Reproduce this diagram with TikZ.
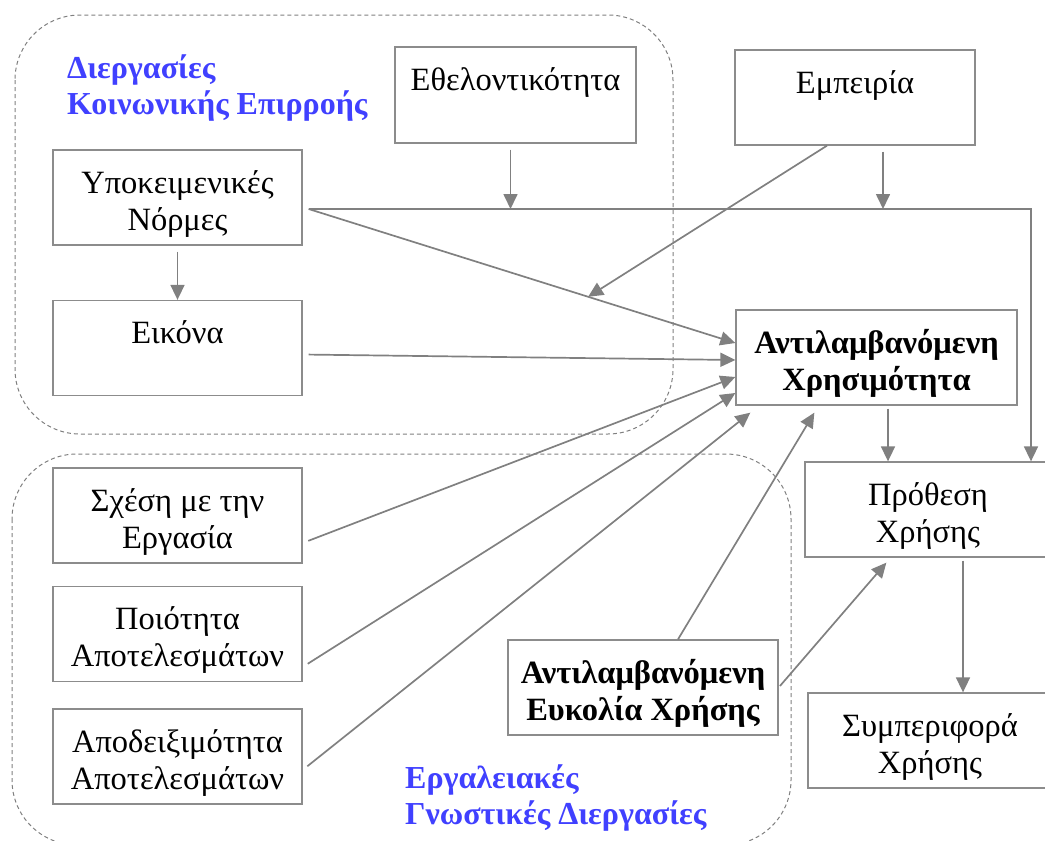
\documentclass[tikz,border=0pt]{standalone}
\usepackage{fontspec}
\setmainfont{Liberation Serif}
\usetikzlibrary{arrows.meta}
\definecolor{grpBlue}{HTML}{4040FF}
\definecolor{lineGray}{HTML}{808080}
\definecolor{boxGray}{HTML}{8C8C8C}

\begin{document}
\begin{tikzpicture}[
    x=1pt, y=-1pt,
    >={Triangle[length=15pt, width=14pt]},
    % plain boxes; bbox for the two "perceived" constructs
    box/.style ={draw=boxGray, line width=1.3pt, fill=white, minimum width=249pt, minimum height=95pt,
            inner sep=0pt, align=center, text height=70pt, text depth=5pt,
            font=\fontsize{32.5}{37}\selectfont},
    bbox/.style={box, font=\fontsize{32.5}{37}\selectfont\bfseries},
    grp/.style ={draw=lineGray, line width=1pt, dash pattern=on 4pt off 3pt, rounded corners=65pt},
    lbl/.style ={text=grpBlue, font=\fontsize{32}{36}\selectfont\bfseries, align=left, inner sep=0pt},
    arr/.style ={->, draw=lineGray, line width=1.7pt, shorten <=6pt}
  ]
  \useasboundingbox (0,0) rectangle (1045,841);

  % the two process groups
  \draw[grp] (15,15) rectangle (673,434);
  \draw[grp] (12,454) rectangle (791,845);
  \node[lbl, anchor=north west] (social) at (67,55) {Διεργασίες\\Κοινωνικής Επιρροής};
  \node[lbl, anchor=north west] (cognit) at (405,765) {Εργαλειακές\\Γνωστικές Διεργασίες};

  \node[box, minimum width=241pt, minimum height=96pt] (ethel) at (515.5,95) {Εθελοντικότητα\\ \strut};
  \node[box, minimum width=240pt] (emp)   at (855,97.5)  {Εμπειρία\\ \strut};
  \node[box] (ypok)  at (177.5,197.5) {Υποκειμενικές\\Νόρμες};
  \node[box] (eik)   at (177.5,348)   {Εικόνα\\ \strut};
  \node[bbox, minimum width=281pt] (xris) at (876.5,357.5) {Αντιλαμβανόμενη\\Χρησιμότητα};
  \node[box, minimum width=246pt] (proth)  at (928,509.5) {Πρόθεση\\Χρήσης};
  \node[box] (sxesi) at (177.5,515.5) {Σχέση με την\\Εργασία};
  \node[box] (poiot) at (177.5,634)   {Ποιότητα\\Αποτελεσμάτων};
  \node[box] (apod)  at (177.5,756.5) {Αποδειξιμότητα\\Αποτελεσμάτων};
  \node[bbox, minimum width=270pt] (eukol) at (643,687.5) {Αντιλαμβανόμενη\\Ευκολία Χρήσης};
  \node[box, minimum width=244pt] (sumper) at (930,740.5) {Συμπεριφορά\\Χρήσης};

  % shared line from the subjective norms (moderated by voluntariness / experience)
  \coordinate (bus)    at ([xshift=6pt, yshift=-11.5pt]ypok.east);
  \coordinate (ethout) at ([xshift=-5pt]ethel.south);
  \coordinate (empout) at ([xshift=28pt]emp.south);
  \coordinate (empx)   at ([xshift=-28pt]emp.south);
  \coordinate (protin) at ([xshift=103pt]proth.north);

  \draw[arr, shorten <=0pt] (bus) -| (protin);
  \draw[arr, shorten <=0pt] (bus) -- coordinate[pos=0.655] (mid) ([yshift=14.5pt]xris.west);
  \draw[arr] (ethout) -- (ethout |- bus);
  \draw[arr] (empout) -- (empout |- bus);
  \draw[arr, shorten <=0pt] (empx) -- (mid);
  \draw[arr] (ypok.south) -- (eik.north);

  \draw[arr] ([yshift=-6.5pt]eik.east)   -- ([yshift=-2.5pt]xris.west);
  \draw[arr] ([yshift=-27.5pt]sxesi.east) -- ([yshift=-19.5pt]xris.west);
  \draw[arr] ([yshift=-33pt]poiot.east)   -- ([yshift=-35.5pt]xris.west);
  \draw[arr] ([yshift=-13.5pt]apod.east)  -- ([xshift=15pt, yshift=-7pt]xris.south west);
  \draw[arr, shorten <=0pt] ([xshift=35pt]eukol.north) -- ([xshift=79pt, yshift=-7pt]xris.south west);
  \draw[arr, shorten <=2pt] (eukol.east) -- ([xshift=82pt, yshift=-5pt]proth.south west);
  \draw[arr, shorten <=3pt] ([xshift=11.5pt]xris.south) -- ([xshift=11.5pt]xris.south |- proth.north);
  \draw[arr, shorten <=3pt] ([xshift=35pt]proth.south) -- ([xshift=33pt]sumper.north);

\end{tikzpicture}
\end{document}
